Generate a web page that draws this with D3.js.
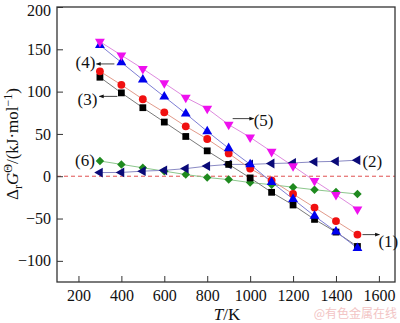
<!DOCTYPE html>
<html>
<head>
<meta charset="utf-8">
<script src="https://cdn.jsdelivr.net/npm/d3@7"></script>
<style>
  body { margin: 0; background: #fff; }
  svg { display: block; font-family: "Liberation Serif", "Times New Roman", serif; }
</style>
</head>
<body>
<svg width="400" height="323"></svg>
<script>
// temperatures, K
const temps = [300, 400, 500, 600, 700, 800, 900, 1000, 1100, 1200, 1300, 1400, 1500];

// ΔrG values, kJ/mol
const seriesRed     = [124, 108, 91, 75.5, 59, 44, 27, 9, -5, -21, -37, -53, -69];     // (1)
const seriesNavy    = [4.3, 4.5, 6, 7, 9, 12, 14, 14, 15, 15.7, 17, 17.6, 19];          // (2)
const seriesBlack   = [117, 98.5, 81, 64, 47, 30, 14, -2, -19, -34, -51, -66, -83];    // (3)
const seriesBlue    = [155, 134.5, 114, 94, 74, 53, 33, 14, -7, -27, -47, -65.5, -85];  // (4)
const seriesMagenta = [159, 143, 127, 110, 93, 80, 61, 46, 29, 12, -5.5, -22, -39];     // (5)
const seriesGreen   = [18, 14, 10, 6, 2, -1.5, -4, -7.5, -10, -13, -16, -18.5, -21];   // (6)

const xTicks = [200, 400, 600, 800, 1000, 1200, 1400, 1600];
const yTicks = [-100, -50, 0, 50, 100, 150, 200];

const svg = d3.select("svg");
const plotL = 57, plotR = 395, plotT = 7, plotB = 282;

const x = d3.scaleLinear().domain([100, 1675]).range([plotL, plotR]);
const y = d3.scaleLinear().domain([-125, 200]).range([plotB, plotT]);

// series drawing order and looks
const series = [
  { vals: seriesGreen,   line: "#8cc78c", fill: "#1f8a1f", sym: d3.symbolSquare,   size: 36, rot: 45 },
  { vals: seriesNavy,    line: "#8a8ac4", fill: "#0a0a78", sym: d3.symbolTriangle, size: 42, rot: -90 },
  { vals: seriesBlack,   line: "#7a7a7a", fill: "#000000", sym: d3.symbolSquare,   size: 46, rot: 0 },
  { vals: seriesRed,     line: "#e29a8a", fill: "#f01010", sym: d3.symbolCircle,   size: 48, rot: 0 },
  { vals: seriesBlue,    line: "#7d7dd4", fill: "#0000ee", sym: d3.symbolTriangle, size: 42, rot: 0 },
  { vals: seriesMagenta, line: "#de8ade", fill: "#ee10ee", sym: d3.symbolTriangle, size: 42, rot: 180 }
];

// zero line
svg.append("line")
  .attr("x1", plotL).attr("x2", plotR)
  .attr("y1", y(0)).attr("y2", y(0))
  .attr("stroke", "#e05050")
  .attr("stroke-width", 1)
  .attr("stroke-dasharray", "4,3");

const line = d3.line().x((d, i) => x(temps[i])).y(d => y(d));

series.forEach(s => {
  svg.append("path")
    .datum(s.vals)
    .attr("fill", "none")
    .attr("stroke", s.line)
    .attr("stroke-width", 1)
    .attr("d", line);
});

series.forEach(s => {
  svg.append("g")
    .selectAll("path")
    .data(s.vals)
    .join("path")
    .attr("transform", (d, i) => "translate(" + x(temps[i]) + "," + y(d) + ") rotate(" + s.rot + ")")
    .attr("d", d3.symbol().type(s.sym).size(s.size))
    .attr("fill", s.fill);
});

// axes
const xAxis = svg.append("g")
  .attr("transform", "translate(0," + plotB + ")")
  .call(d3.axisBottom(x).tickValues(xTicks).tickSizeInner(-6).tickSizeOuter(0).tickPadding(8).tickFormat(d3.format("d")));
const yAxis = svg.append("g")
  .attr("transform", "translate(" + plotL + ",0)")
  .call(d3.axisLeft(y).tickValues(yTicks).tickSizeInner(-6).tickSizeOuter(0).tickPadding(6));

[xAxis, yAxis].forEach(g => {
  g.select(".domain").remove();
  g.selectAll("line").attr("stroke", "#333");
  g.selectAll("text").attr("font-size", 16).attr("fill", "#111")
    .attr("font-family", "Liberation Serif, serif");
});
// keep the top label inside the picture
yAxis.selectAll(".tick text").filter(d => d === 200).attr("dy", "0.5em");

// frame
svg.append("rect")
  .attr("x", plotL).attr("y", plotT)
  .attr("width", plotR - plotL).attr("height", plotB - plotT)
  .attr("fill", "none")
  .attr("stroke", "#333")
  .attr("stroke-width", 1.3);

// axis titles
svg.append("text")
  .attr("x", 227).attr("y", 320)
  .attr("text-anchor", "middle")
  .attr("font-size", 17)
  .attr("fill", "#111")
  .html('<tspan font-style="italic">T</tspan>/K');

svg.append("text")
  .attr("transform", "translate(18,144) rotate(-90)")
  .attr("text-anchor", "middle")
  .attr("font-size", 17)
  .attr("fill", "#111")
  .html('Δ<tspan font-size="12" dy="4">r</tspan><tspan font-style="italic" dy="-4">G</tspan><tspan font-size="12" dy="-6">Θ</tspan><tspan dy="6">/(kJ·mol</tspan><tspan font-size="12" dy="-6">−1</tspan><tspan dy="6">)</tspan>');

// series labels with arrows
svg.append("defs").append("marker")
  .attr("id", "arr")
  .attr("viewBox", "0 0 10 10")
  .attr("refX", 9).attr("refY", 5)
  .attr("markerWidth", 6).attr("markerHeight", 6)
  .attr("orient", "auto")
  .append("path").attr("d", "M0,1L10,5L0,9Z").attr("fill", "#111");

function arrow(x1, y1, x2, y2) {
  svg.append("line")
    .attr("x1", x1).attr("y1", y1).attr("x2", x2).attr("y2", y2)
    .attr("stroke", "#111").attr("stroke-width", 0.8)
    .attr("marker-end", "url(#arr)");
}
function label(txt, px, py, anchor) {
  svg.append("text")
    .attr("x", px).attr("y", py)
    .attr("text-anchor", anchor)
    .attr("dominant-baseline", "middle")
    .attr("font-size", 17)
    .attr("fill", "#111")
    .text(txt);
}

// (4)
arrow(x(400) - 7, y(seriesBlue[1]) + 1.5, x(400) - 25, y(seriesBlue[1]) + 1.5);
label("(4)", x(400) - 26, y(seriesBlue[1]) + 2, "end");
// (3)
arrow(x(400) - 4, y(seriesBlack[1]) + 3.5, x(400) - 22, y(seriesBlack[1]) + 3.5);
label("(3)", x(400) - 24, y(seriesBlack[1]) + 8, "end");
// (5)
arrow(x(900) + 4, y(seriesMagenta[6]) - 6, x(900) + 25, y(seriesMagenta[6]) - 6);
label("(5)", x(900) + 25, y(seriesMagenta[6]) - 3, "start");
// (1)
arrow(x(1500) + 5, y(seriesRed[12]), x(1500) + 22, y(seriesRed[12]));
label("(1)", x(1500) + 21, y(seriesRed[12]) + 8, "start");
// (2)
label("(2)", x(1500) + 5, y(seriesNavy[12]) + 3, "start");
// (6)
label("(6)", x(300) - 5, y(seriesGreen[0]) + 1, "end");

// watermark
svg.append("text")
  .attr("x", 397).attr("y", 318)
  .attr("text-anchor", "end")
  .attr("font-size", 12)
  .attr("font-family", "Noto Sans CJK SC, sans-serif")
  .attr("fill", "#f2c4c4")
  .text("@有色金属在线");
</script>
</body>
</html>
